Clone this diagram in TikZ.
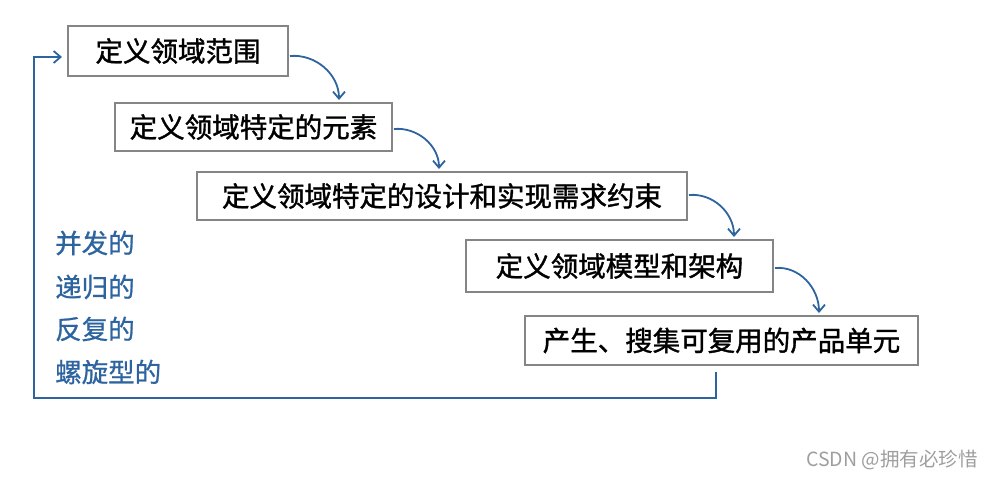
\documentclass[tikz,border=0pt]{standalone}
\usepackage{fontspec}
\setmainfont{Noto Sans CJK SC}
\newfontfamily\boxfont[FakeBold=1.3]{Noto Sans CJK SC}
\newfontfamily\sidefont[FakeBold=0.8]{Noto Sans CJK SC}
\usetikzlibrary{arrows.meta}
\definecolor{flowblue}{HTML}{2D64A0}
\definecolor{boxgrey}{HTML}{858585}
\tikzset{
  stepbox/.style={draw=boxgrey, line width=2pt, fill=white, inner sep=0pt, font=\boxfont\fontsize{27.5}{31}\selectfont},
  flowarrow/.style={draw=flowblue, line width=1.8pt, -{Straight Barb[length=7pt,width=12pt,line width=1.8pt]}},
  sidelabel/.style={text=flowblue, anchor=west, inner sep=0pt, font=\sidefont\fontsize{26.5}{30}\selectfont},
}
\begin{document}
\begin{tikzpicture}[x=1pt,y=1pt]
\useasboundingbox (0,0) rectangle (994,480);
\node[stepbox, minimum width=220pt, minimum height=50pt] (b1) at (178,429) {定义领域范围};
\node[stepbox, minimum width=277pt, minimum height=48pt] (b2) at (253.5,353) {定义领域特定的元素};
\node[stepbox, minimum width=490pt, minimum height=48pt] (b3) at (442,284) {定义领域特定的设计和实现需求约束};
\node[stepbox, minimum width=307pt, minimum height=52pt] (b4) at (619.5,214) {定义领域模型和架构};
\node[stepbox, minimum width=393pt, minimum height=49pt] (b5) at (721.5,139.5) {产生、搜集可复用的产品单元};

\draw[flowarrow] ([xshift=1pt,yshift=-5pt]b1.east) to[out=5,in=90] ([xshift=225pt,yshift=2pt]b2.north west);
\draw[flowarrow] ([xshift=1pt,yshift=-2pt]b2.east) to[out=5,in=90] ([xshift=243pt,yshift=2pt]b3.north west);
\draw[flowarrow] ([xshift=1pt,yshift=1pt]b3.east) to[out=5,in=90] ([xshift=269pt,yshift=2pt]b4.north west);
\draw[flowarrow] ([xshift=1pt,yshift=-2pt]b4.east) to[out=5,in=90] ([xshift=295pt,yshift=2pt]b5.north west);

\coordinate (f0) at (716,108);
\coordinate (f1) at (716,82);
\coordinate (f2) at (34,82);
\coordinate (f3) at (34,423);
\coordinate (f4) at (62,423);
\draw[flowarrow] (f0) -- (f1) -- (f2) -- (f3) -- (f4);

\node[sidelabel] (t1) at (55,237) {并发的};
\node[sidelabel] (t2) at (55,193) {递归的};
\node[sidelabel] (t3) at (55,151) {反复的};
\node[sidelabel] (t4) at (55,108) {螺旋型的};

\node[text=black!38, anchor=east, inner sep=0pt, font=\fontsize{19.5}{22}\selectfont] (wm) at (978,20) {CSDN @拥有必珍惜};
\end{tikzpicture}
\end{document}
